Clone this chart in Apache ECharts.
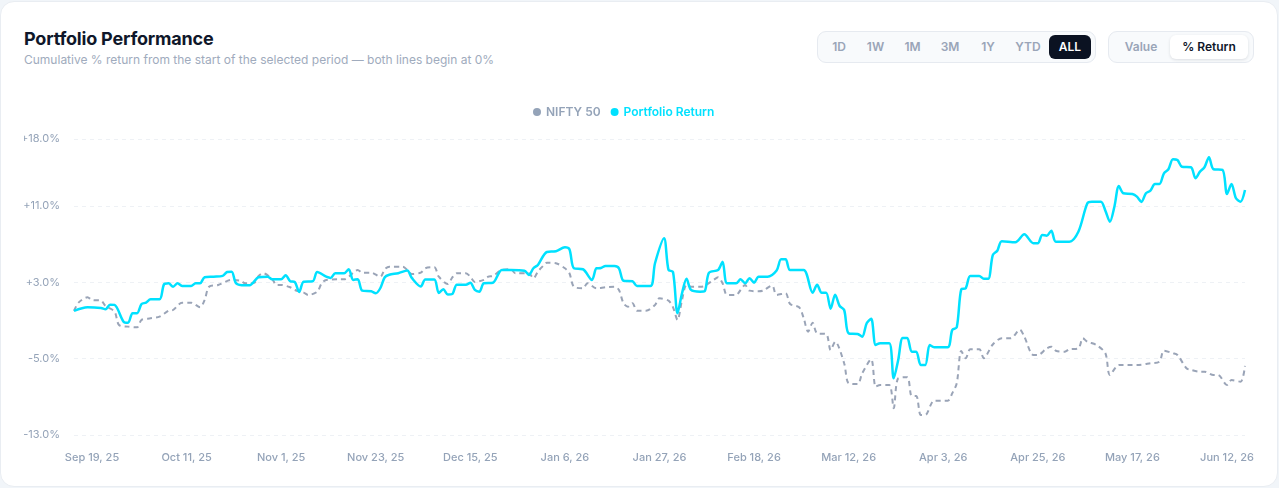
<!DOCTYPE html>
<html>
<head>
<meta charset="utf-8">
<title>Portfolio Performance</title>
<script src="https://cdn.jsdelivr.net/npm/echarts@6/dist/echarts.min.js"></script>
<style>
  html, body { margin: 0; padding: 0; width: 1279px; height: 488px; overflow: hidden; background: #f1f5f9; font-family: Inter, 'Noto Sans', sans-serif; }
  .card { position: absolute; left: 0; top: 1px; width: 1278px; height: 486px; box-sizing: border-box; background: #fff; border: 1px solid #e9edf2; border-radius: 14px; }
  .title { position: absolute; left: 23px; top: 26px; margin: 0; font-size: 18px; font-weight: 700; color: #0f172a; letter-spacing: -0.2px; }
  .sub { position: absolute; left: 23px; top: 50px; font-size: 12px; color: #a0abbd; }
  .seg { position: absolute; top: 29px; height: 32px; box-sizing: border-box; padding: 3px; border: 1px solid #e6eaf0; background: #f8fafc; border-radius: 9px; display: flex; }
  .seg span { display: block; height: 24px; line-height: 24px; text-align: center; font-size: 12px; font-weight: 600; color: #9aa5b8; border-radius: 6px; }
  .seg span.on-dark { background: #0b1222; color: #fff; }
  .seg span.on-light { background: #fff; color: #0f172a; box-shadow: 0 1px 3px rgba(15, 23, 42, 0.12); }
  #chart { position: absolute; left: 24px; top: 80px; width: 1255px; height: 408px; }
</style>
</head>
<body>
<div class="card">
  <div class="title">Portfolio Performance</div>
  <div class="sub">Cumulative % return from the start of the selected period — both lines begin at 0%</div>
  <div class="seg" style="left:816px;width:279px">
    <span style="width:36px">1D</span>
    <span style="width:37px">1W</span>
    <span style="width:37px">1M</span>
    <span style="width:38px">3M</span>
    <span style="width:38px">1Y</span>
    <span style="width:42px">YTD</span>
    <span style="width:42px" class="on-dark">ALL</span>
  </div>
  <div class="seg" style="left:1107px;width:146px">
    <span style="width:58px">Value</span>
    <span style="width:78px" class="on-light">% Return</span>
  </div>
</div>
<div id="chart"></div>
<script>
// x = trading session index since the start of the period
const tickDays = [4, 25, 46, 67, 88, 109, 130, 151, 172, 193, 214, 235, 256];
const tickLabels = ['Sep 19, 25', 'Oct 11, 25', 'Nov 1, 25', 'Nov 23, 25', 'Dec 15, 25', 'Jan 6, 26', 'Jan 27, 26',
  'Feb 18, 26', 'Mar 12, 26', 'Apr 3, 26', 'Apr 25, 26', 'May 17, 26', 'Jun 12, 26'];

const yTicks = { min: -13, max: 18, interval: 8 };

const niftyDay = [0, 1, 3, 4, 6, 7, 9, 10, 12, 14, 15, 17, 19, 21, 22, 24, 26, 28, 29, 30, 32, 35, 37, 38, 40, 41, 42, 44,
  45, 46, 48, 49, 51, 52, 54, 55, 56, 59, 60, 61, 63, 64, 66, 68, 69, 70, 73, 74, 75, 77, 78, 80, 81, 83, 84, 85, 87, 88,
  89, 91, 92, 93, 95, 97, 98, 101, 102, 103, 104, 105, 107, 109, 110, 111, 113, 114, 116, 118, 120, 121, 122, 123, 124,
  125, 127, 129, 130, 132, 133, 134, 135, 136, 137, 139, 140, 142, 143, 144, 145, 147, 148, 149, 150, 152, 153, 155, 156,
  158, 159, 161, 162, 163, 164, 165, 167, 168, 169, 171, 172, 174, 175, 177, 178, 179, 181, 182, 183, 185, 186, 187, 188,
  189, 191, 194, 195, 196, 197, 198, 199, 201, 202, 204, 206, 208, 210, 211, 213, 214, 216, 217, 218, 220, 221, 223, 224,
  225, 227, 229, 230, 232, 234, 236, 239, 241, 242, 244, 245, 247, 248, 250, 251, 253, 254, 256, 257, 259, 260];
const niftyRet = [0, 0.86, 1.42, 1.14, 1.07, 0.51, -0.08, -1.48, -1.65, -1.72, -0.95, -0.78, -0.61, 0.02, 0.09, 0.86, 0.86,
  0.38, 1.14, 2.53, 2.71, 3.24, 3.16, 2.89, 2.95, 3.66, 3.94, 3.31, 2.71, 2.71, 2.47, 2.19, 1.91, 1.67, 2.01, 2.89, 3.24,
  3.31, 3.31, 3.58, 4.28, 4.0, 4.0, 3.58, 4.36, 4.63, 4.63, 4.28, 3.86, 4.0, 4.46, 4.57, 3.58, 2.82, 3.5, 3.94, 3.94, 3.58,
  3.03, 3.24, 3.58, 3.66, 4.28, 4.36, 3.94, 3.94, 3.41, 4.11, 4.63, 5.05, 4.99, 4.46, 3.94, 2.53, 2.37, 2.89, 2.37, 2.47,
  2.53, 2.19, 0.8, 0.44, 0.8, 0.02, 0.02, 0.62, 1.32, 1.07, 0.38, -0.95, 1.14, 2.71, 2.53, 2.53, 2.61, 3.24, 3.52, 2.89,
  1.67, 1.67, 2.19, 2.71, 2.12, 2.05, 2.12, 2.65, 1.67, 1.84, 0.72, 0.38, -0.74, -2.18, -1.24, -2.35, -2.42, -4.1, -3.23,
  -5.49, -7.58, -7.66, -6.54, -5.07, -7.94, -7.76, -7.76, -10.2, -7.06, -6.95, -8.91, -8.91, -10.9, -10.9, -9.4, -9.4,
  -8.63, -7.58, -4.2, -4.96, -4.02, -4.02, -4.96, -3.52, -2.87, -2.87, -1.97, -2.7, -4.62, -4.62, -3.92, -3.75, -4.17,
  -4.27, -4.02, -3.92, -2.87, -3.23, -3.57, -4.44, -6.71, -5.67, -5.67, -5.67, -5.49, -5.32, -4.17, -4.44, -4.62, -6.01,
  -6.19, -6.37, -6.37, -6.71, -6.71, -7.76, -7.24, -7.42, -5.77];

const portDay = [0, 3, 6, 7, 8, 9, 11, 12, 13, 14, 15, 16, 17, 19, 20, 21, 22, 23, 24, 26, 27, 28, 29, 31, 33, 34, 35, 36,
  38, 39, 41, 43, 44, 46, 47, 48, 49, 50, 51, 53, 54, 56, 57, 58, 60, 61, 62, 63, 64, 66, 67, 68, 69, 70, 72, 74, 75, 77,
  78, 80, 81, 82, 83, 84, 85, 87, 88, 89, 90, 91, 93, 95, 97, 100, 101, 102, 103, 105, 107, 109, 110, 111, 113, 115, 116,
  117, 118, 120, 121, 122, 124, 125, 128, 129, 131, 132, 133, 134, 135, 136, 137, 139, 140, 141, 143, 144, 145, 147, 148,
  149, 150, 151, 152, 154, 156, 157, 158, 159, 162, 164, 165, 166, 167, 168, 169, 170, 171, 172, 174, 175, 176, 177, 178,
  179, 181, 182, 183, 184, 185, 186, 187, 188, 189, 190, 191, 194, 195, 196, 197, 198, 199, 201, 202, 203, 204, 205, 206,
  209, 211, 213, 214, 215, 216, 217, 218, 221, 223, 225, 226, 228, 229, 230, 231, 232, 233, 235, 236, 237, 238, 239, 240,
  241, 242, 243, 244, 245, 246, 248, 249, 250, 251, 252, 253, 255, 256, 257, 258, 259, 260];
const portRet = [0, 0.38, 0.3, 0.17, 0.65, 0.62, -1.13, -1.24, -0.25, -0.25, 0.72, 0.86, 1.21, 1.21, 2.79, 2.89, 2.53,
  2.89, 2.61, 2.61, 2.89, 2.89, 3.52, 3.58, 3.66, 4.07, 4.11, 2.89, 2.68, 2.68, 3.52, 3.58, 3.31, 3.31, 3.73, 3.1, 3.03,
  1.98, 3.06, 3.1, 4.07, 3.58, 3.45, 3.94, 3.94, 4.36, 3.24, 3.31, 2.12, 2.05, 1.84, 2.37, 3.52, 3.79, 3.94, 4.23, 3.45,
  2.56, 3.29, 3.29, 1.87, 2.26, 1.72, 1.77, 2.74, 2.74, 2.95, 2.19, 2.01, 2.89, 2.95, 4.28, 4.28, 4.21, 3.76, 4.46, 4.81,
  6.17, 6.24, 6.66, 6.45, 4.46, 4.36, 3.24, 4.46, 4.49, 4.7, 4.7, 4.46, 3.16, 3.1, 2.61, 2.61, 4.99, 7.6, 4.3, 4.07, -0.25,
  1.84, 3.37, 2.19, 2.01, 2.05, 4.0, 4.28, 5.15, 2.89, 2.89, 3.31, 2.89, 3.41, 2.95, 3.58, 3.58, 4.23, 5.4, 5.4, 4.28,
  4.28, 1.91, 2.74, 1.91, 1.91, 0.23, 1.7, 0.51, 0.09, -2.35, -2.42, -2.7, -1.3, -0.82, -3.57, -3.39, -3.39, -7.06, -5.14,
  -2.84, -2.84, -4.27, -4.27, -5.67, -5.67, -3.57, -3.81, -3.81, -2.0, -1.72, 2.26, 2.37, 3.66, 3.66, 3.37, 3.37, 5.85,
  6.3, 7.29, 7.18, 8.02, 7.08, 7.08, 7.95, 7.88, 8.4, 7.25, 7.25, 8.29, 11.27, 11.44, 11.44, 10.49, 9.34, 10.91, 13.08,
  12.32, 12.24, 11.96, 11.41, 12.32, 12.59, 13.29, 13.29, 14.41, 14.83, 15.88, 15.8, 15.1, 15.04, 13.89, 14.58, 15.04,
  16.09, 14.83, 14.76, 12.24, 13.29, 11.79, 11.44, 12.66];

const zip = (xs, ys) => xs.map((x, i) => [x, ys[i]]);

const chart = echarts.init(document.getElementById('chart'));
chart.setOption({
  animation: false,
  textStyle: { fontFamily: 'Inter, sans-serif' },
  legend: {
    left: 504,
    top: 21,
    icon: 'circle',
    itemWidth: 8,
    itemHeight: 8,
    itemGap: 10,
    textStyle: { fontSize: 12, fontWeight: 600 },
    data: [
      { name: 'NIFTY 50', textStyle: { color: '#94a3b8' } },
      { name: 'Portfolio Return', textStyle: { color: '#00e1ff' } },
    ],
  },
  grid: { left: 50, right: 34, top: 59, bottom: 53, outerBoundsMode: 'none' },
  xAxis: {
    type: 'value',
    min: 0,
    max: 260,
    axisLine: { show: false },
    axisTick: { show: false },
    splitLine: { show: false },
    axisLabel: {
      customValues: tickDays,
      margin: 17,
      color: '#94a3b8',
      fontSize: 11,
      fontWeight: 500,
      formatter: (v) => {
        const k = tickDays.indexOf(v);
        return k >= 0 ? tickLabels[k] : '';
      },
    },
  },
  yAxis: {
    type: 'value',
    min: yTicks.min,
    max: yTicks.max,
    interval: yTicks.interval,
    axisLine: { show: false },
    axisTick: { show: false },
    axisLabel: {
      margin: 14,
      color: '#94a3b8',
      fontSize: 11,
      formatter: (v) => `${v > 0 ? '+' : ''}${v.toFixed(1)}%`,
    },
    splitLine: { lineStyle: { color: '#eef1f5', type: [4, 4], width: 1 } },
  },
  series: [
    {
      name: 'NIFTY 50',
      type: 'line',
      data: zip(niftyDay, niftyRet),
      showSymbol: false,
      smooth: 0.3,
      itemStyle: { color: '#94a3b8' },
      lineStyle: { color: '#9aa4b7', width: 2, type: [5, 4] },
    },
    {
      name: 'Portfolio Return',
      type: 'line',
      data: zip(portDay, portRet),
      showSymbol: false,
      smooth: 0.3,
      itemStyle: { color: '#00e1ff' },
      lineStyle: { color: '#00e1ff', width: 2.5 },
    },
  ],
});
</script>
</body>
</html>
